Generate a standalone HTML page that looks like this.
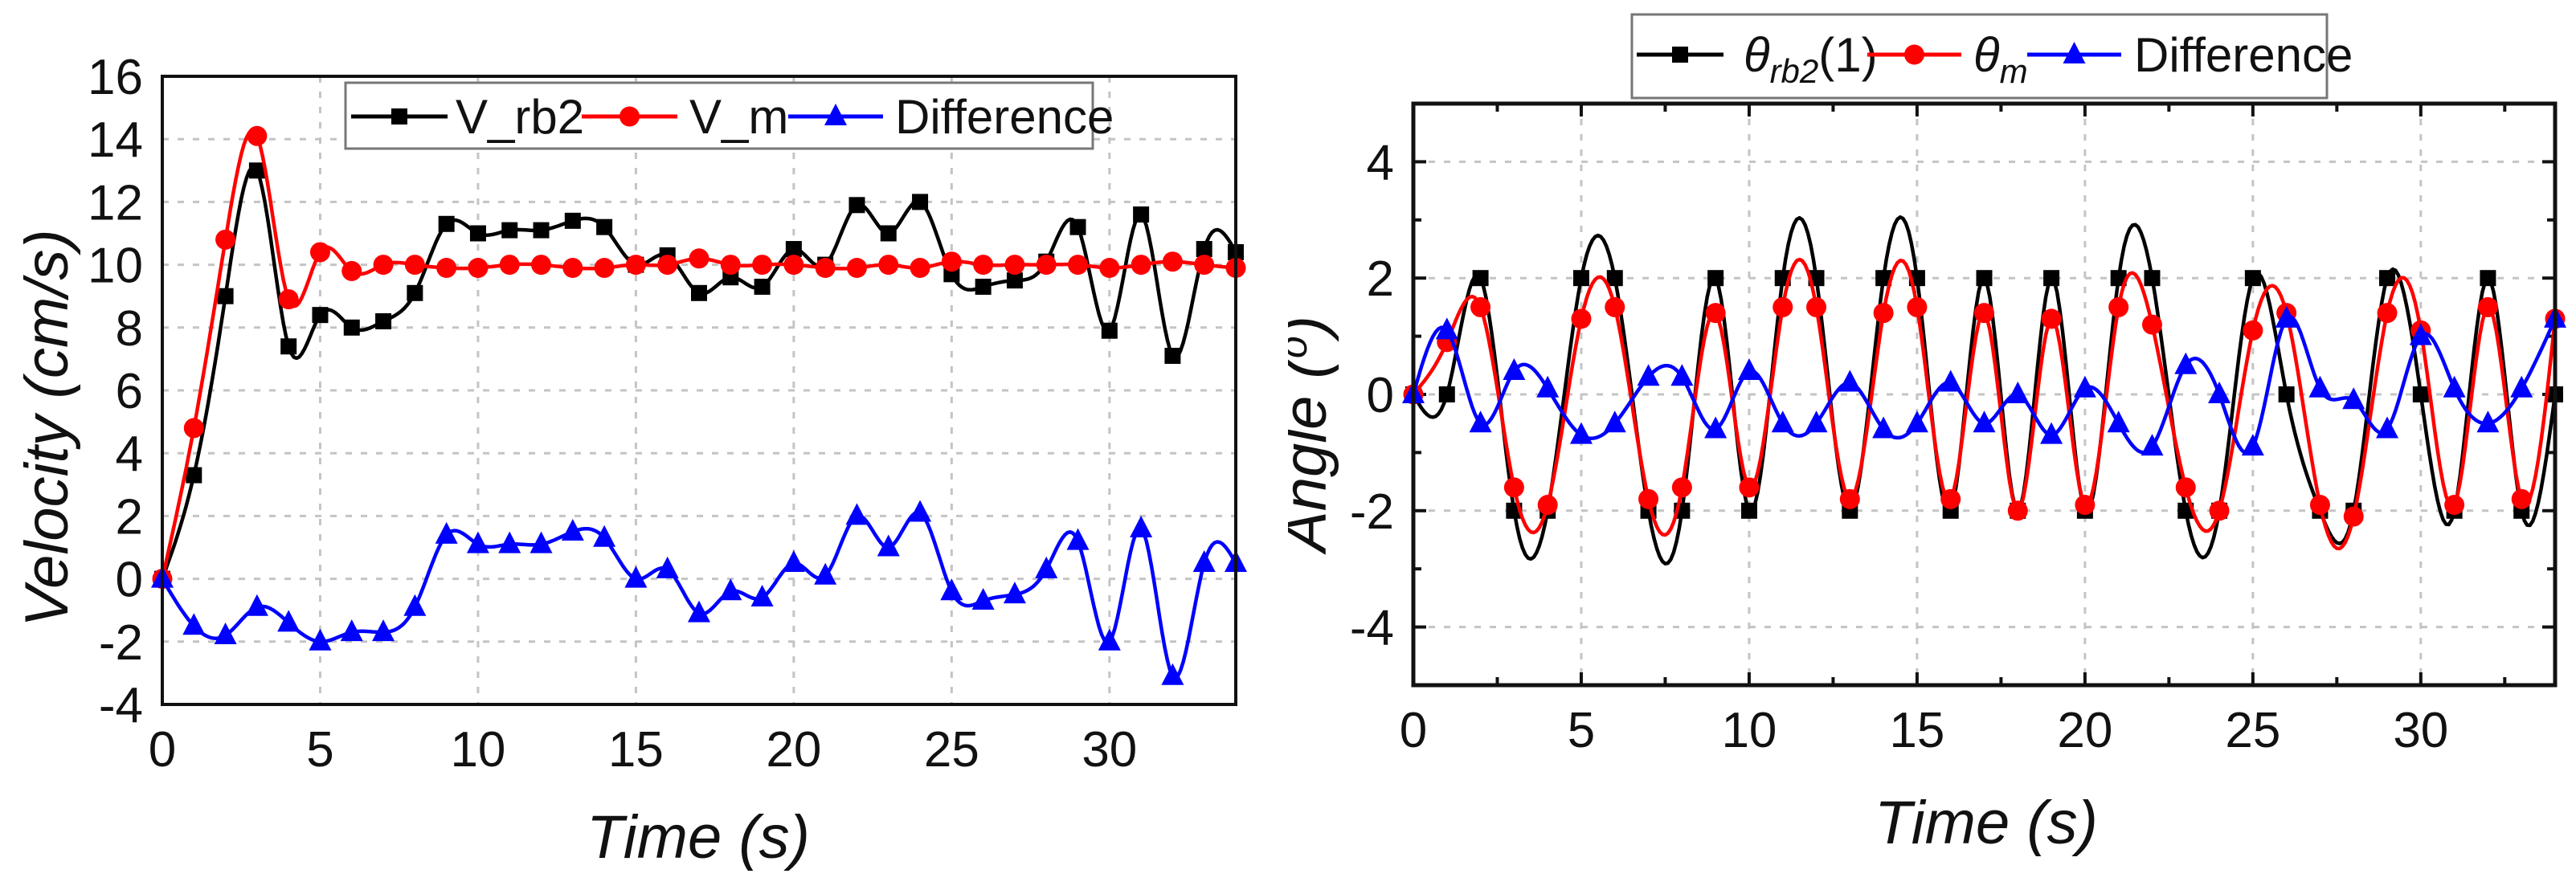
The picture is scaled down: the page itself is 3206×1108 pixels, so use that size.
<!DOCTYPE html>
<html><head><meta charset="utf-8"><style>
html,body{margin:0;padding:0;background:#fff;}
svg{display:block;}
text{font-family:"Liberation Sans Narrow","Liberation Sans",sans-serif;fill:#111;}
.tl{font-size:62px;}
.ttl{font-family:"Liberation Sans",sans-serif;font-style:italic;}
</style></head><body>
<svg id="chart" width="3206" height="1108" viewBox="0 0 3206 1108" xmlns="http://www.w3.org/2000/svg">
<defs><clipPath id="rclip"><rect x="1603" y="0" width="1603" height="1108"/></clipPath></defs>
<rect width="3206" height="1108" fill="#fff"/>
<g id="left"></g>
<g id="right"></g>
<text class="ttl" font-size="76" transform="translate(84,533) rotate(-90)" text-anchor="middle">Velocity (cm/s)</text>
<text class="ttl" font-size="76" x="869" y="1068" text-anchor="middle">Time (s)</text>
<text class="ttl" font-size="76" x="2472" y="1050" text-anchor="middle">Time (s)</text>
<g clip-path="url(#rclip)"><text class="ttl" font-size="76" transform="translate(1650,540) rotate(-90)" text-anchor="middle">Angle (<tspan font-size="50" dy="-24">o</tspan><tspan dy="24">)</tspan></text></g>
</svg>
<script>
const times = [0,1,2,3,4,5,6,7,8,9,10,11,12,13,14,15,16,17,18,19,20,21,22,23,24,25,26,27,28,29,30,31,32,33,34];
const vRb2 = [0,3.3,9.0,13.0,7.4,8.4,8.0,8.2,9.1,11.3,11.0,11.1,11.1,11.4,11.2,10.0,10.3,9.1,9.6,9.3,10.5,10.0,11.9,11.0,12.0,9.7,9.3,9.5,10.1,11.2,7.9,11.6,7.1,10.5,10.4];
const vM = [0,4.8,10.8,14.1,8.9,10.4,9.8,10.0,10.0,9.9,9.9,10.0,10.0,9.9,9.9,10.0,10.0,10.2,10.0,10.0,10.0,9.9,9.9,10.0,9.9,10.1,10.0,10.0,10.0,10.0,9.9,10.0,10.1,10.0,9.9];
const vDiff = [0,-1.5,-1.8,-0.9,-1.4,-2.0,-1.7,-1.7,-0.9,1.4,1.1,1.1,1.1,1.5,1.3,0.0,0.3,-1.1,-0.4,-0.6,0.5,0.1,2.0,1.0,2.1,-0.4,-0.7,-0.5,0.3,1.2,-2.0,1.6,-3.1,0.5,0.5];
const thRb2 = [0,0,2,-2,-2,2,2,-2,-2,2,-2,2,2,-2,2,2,-2,2,-2,2,-2,2,2,-2,-2,2,0,-2,-2,2,0,-2,2,-2,0];
const thM = [0,0.9,1.5,-1.6,-1.9,1.3,1.5,-1.8,-1.6,1.4,-1.6,1.5,1.5,-1.8,1.4,1.5,-1.8,1.4,-2.0,1.3,-1.9,1.5,1.2,-1.6,-2.0,1.1,1.4,-1.9,-2.1,1.4,1.1,-1.9,1.5,-1.8,1.3];
const thDiff = [0,1.1,-0.5,0.4,0.1,-0.7,-0.5,0.3,0.3,-0.6,0.4,-0.5,-0.5,0.2,-0.6,-0.5,0.2,-0.5,0.0,-0.7,0.1,-0.5,-0.9,0.5,0.0,-0.9,1.3,0.1,-0.1,-0.6,1.0,0.1,-0.5,0.1,1.3];
const velYTicks = [16,14,12,10,8,6,4,2,0,-2,-4];
const angYTicks = [4,2,0,-2,-4];
const xTicks = [0,5,10,15,20,25,30];

const NS="http://www.w3.org/2000/svg";
function mk(tag,attrs,parent){const e=document.createElementNS(NS,tag);for(const k in attrs)e.setAttribute(k,attrs[k]);parent.appendChild(e);return e;}

function spline(xs,ys){
  const n=xs.length,h=[],al=[],l=[1],mu=[0],z=[0],c=new Array(n).fill(0),b=[],d=[];
  for(let i=0;i<n-1;i++)h.push(xs[i+1]-xs[i]);
  for(let i=1;i<n-1;i++)al[i]=3/h[i]*(ys[i+1]-ys[i])-3/h[i-1]*(ys[i]-ys[i-1]);
  for(let i=1;i<n-1;i++){l[i]=2*(xs[i+1]-xs[i-1])-h[i-1]*mu[i-1];mu[i]=h[i]/l[i];z[i]=(al[i]-h[i-1]*z[i-1])/l[i];}
  for(let j=n-2;j>=0;j--){c[j]=(j<n-1&&j>0)?z[j]-mu[j]*c[j+1]:(j===0?0:c[j]);if(j===0)c[0]=0;
    b[j]=(ys[j+1]-ys[j])/h[j]-h[j]*(c[j+1]+2*c[j])/3;d[j]=(c[j+1]-c[j])/(3*h[j]);}
  const pts=[];
  for(let i=0;i<n-1;i++)for(let k=0;k<12;k++){const t=h[i]*k/12;pts.push([xs[i]+t,ys[i]+b[i]*t+c[i]*t*t+d[i]*t*t*t]);}
  pts.push([xs[n-1],ys[n-1]]);return pts;
}

function drawChart(g,cfg){
  const X=v=>cfg.x0+(v-cfg.xmin)/(cfg.xmax-cfg.xmin)*(cfg.x1-cfg.x0);
  const Y=v=>cfg.y1-(v-cfg.ymin)/(cfg.ymax-cfg.ymin)*(cfg.y1-cfg.y0);
  cfg.yTicks.forEach(v=>{if(v>cfg.ymin&&v<cfg.ymax){const e=mk('line',{x1:cfg.x0,x2:cfg.x1,y1:Y(v),y2:Y(v),stroke:'#c4c4c4','stroke-width':3,'stroke-dasharray':'8 11'},g);
    
    }});
  xTicks.forEach(v=>{if(v>cfg.xmin){const e=mk('line',{x1:X(v),x2:X(v),y1:cfg.y0,y2:cfg.y1,stroke:'#c4c4c4','stroke-width':3,'stroke-dasharray':'8 11'},g);
    
    }});
  if(cfg.ticks){
    for(let v=0;v<=cfg.xmax;v+=2.5){const L=(v%5===0)?16:10;
      const t1=mk('line',{x1:X(v),x2:X(v),y1:cfg.y1,y2:cfg.y1-L,stroke:'#111','stroke-width':4},g);
      
      
      const t2=mk('line',{x1:X(v),x2:X(v),y1:cfg.y0,y2:cfg.y0+L,stroke:'#111','stroke-width':4},g);
      
      }
    for(let v=cfg.ymin+1;v<cfg.ymax;v+=1){const L=(v%2===0)?16:10;
      const t1=mk('line',{x1:cfg.x0,x2:cfg.x0+L,y1:Y(v),y2:Y(v),stroke:'#111','stroke-width':4},g);
      
      
      const t2=mk('line',{x1:cfg.x1,x2:cfg.x1-L,y1:Y(v),y2:Y(v),stroke:'#111','stroke-width':4},g);
      
      }
  }
  cfg.yTicks.forEach(v=>{const t=mk('text',{x:cfg.x0-24,y:Y(v)+22,'text-anchor':'end',class:'tl'},g);t.textContent=String(v);
    
    });
  xTicks.forEach(v=>{const t=mk('text',{x:X(v),y:cfg.xly,'text-anchor':'middle',class:'tl'},g);t.textContent=v;
    
    });
  cfg.series.forEach(s=>{
    const pts=spline(times,s.vals);
    const p=mk('path',{d:'M'+pts.map(q=>X(q[0]).toFixed(1)+','+Y(q[1]).toFixed(1)).join('L'),fill:'none',stroke:s.color,'stroke-width':4.5,'stroke-linejoin':'round'},g);
    
    
    s.vals.forEach((v,i)=>{const m=marker(g,s.shape,X(times[i]),Y(v),s.color);
      
      });
  });
  const f=mk('rect',{x:cfg.x0,y:cfg.y0,width:cfg.x1-cfg.x0,height:cfg.y1-cfg.y0,fill:'none',stroke:'#111','stroke-width':cfg.fw},g);
  
  
  const lg=mk('g',{},g);
  
  
  mk('rect',{x:cfg.leg.x,y:cfg.leg.y,width:cfg.leg.w,height:cfg.leg.h,fill:'#fff',stroke:'#777','stroke-width':3},lg);
  cfg.leg.items.forEach((it,i)=>{const s=cfg.series[i];
    const e=mk('g',{},lg);
    
    
    mk('line',{x1:it.lx0,x2:it.lx1,y1:cfg.leg.cy,y2:cfg.leg.cy,stroke:s.color,'stroke-width':5},e);
    marker(e,s.shape,(it.lx0+it.lx1)/2,cfg.leg.cy,s.color);
    const t=mk('text',{x:it.tx,y:cfg.leg.cy+21,'font-size':60},e);t.innerHTML=it.label;});
}
function marker(g,shape,x,y,c){
  if(shape==='sq')return mk('rect',{x:x-10,y:y-10,width:20,height:20,fill:c},g);
  if(shape==='ci')return mk('circle',{cx:x,cy:y,r:12.5,fill:c},g);
  return mk('polygon',{points:`${x},${y-16} ${x+14},${y+11} ${x-14},${y+11}`,fill:c},g);
}

drawChart(document.getElementById('left'),{x0:202,x1:1538,y0:95,y1:877,xmin:0,xmax:34,ymin:-4,ymax:16,yTicks:velYTicks,xly:954,fw:4,ticks:false,
  series:[{name:'v-rb2',vals:vRb2,color:'#000',shape:'sq'},{name:'v-m',vals:vM,color:'#f00',shape:'ci'},{name:'velocity-difference',vals:vDiff,color:'#00f',shape:'tr'}],
  leg:{x:430,y:103,w:930,h:82,cy:145,items:[{lx0:437,lx1:557,tx:567,label:'V_rb2'},{lx0:724,lx1:843,tx:858,label:'V_m'},{lx0:981,lx1:1099,tx:1114,label:'Difference'}]}});
drawChart(document.getElementById('right'),{x0:1759,x1:3180,y0:129,y1:853,xmin:0,xmax:34,ymin:-5,ymax:5,yTicks:angYTicks,xly:930,fw:5,ticks:true,
  series:[{name:'theta-rb2',vals:thRb2,color:'#000',shape:'sq'},{name:'theta-m',vals:thM,color:'#f00',shape:'ci'},{name:'angle-difference',vals:thDiff,color:'#00f',shape:'tr'}],
  leg:{x:2031,y:18,w:865,h:104,cy:68,items:[{lx0:2037,lx1:2145,tx:2170,label:'<tspan font-style="italic">θ</tspan><tspan font-style="italic" font-size="42" dy="14">rb2</tspan><tspan dy="-14">(1)</tspan>'},{lx0:2324,lx1:2441,tx:2456,label:'<tspan font-style="italic">θ</tspan><tspan font-style="italic" font-size="42" dy="14">m</tspan>'},{lx0:2523,lx1:2640,tx:2656,label:'Difference'}]}});
</script>
</body></html>
